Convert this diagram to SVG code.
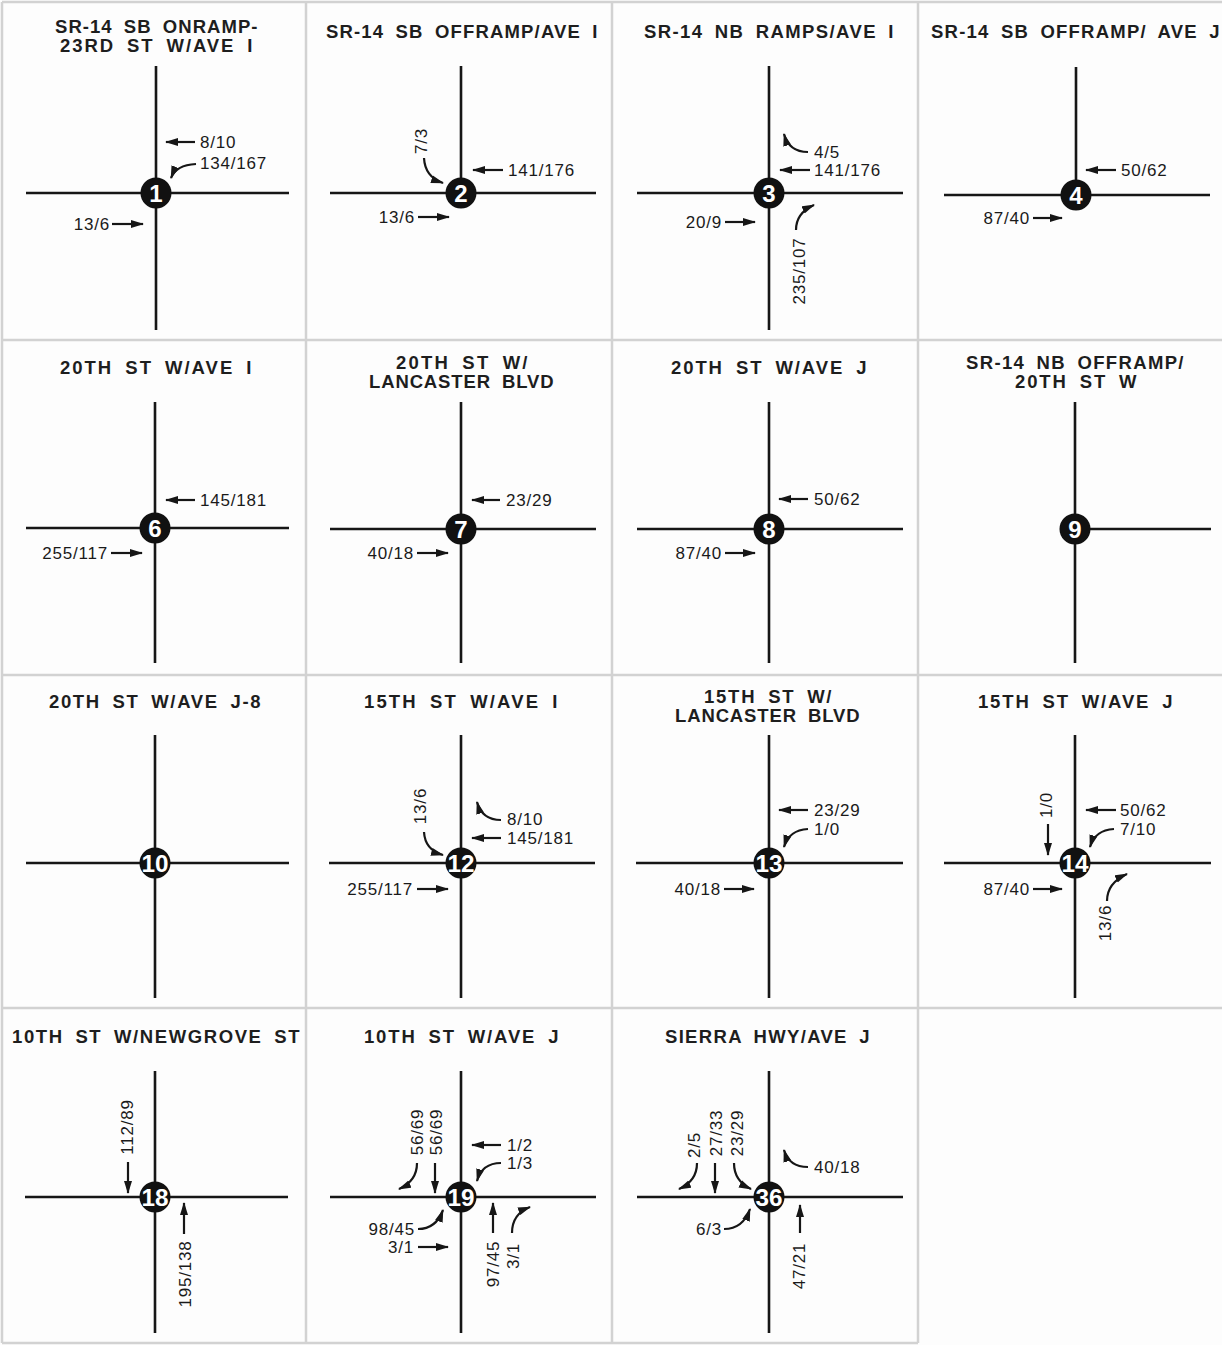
<svg xmlns="http://www.w3.org/2000/svg" width="1222" height="1345" viewBox="0 0 1222 1345">
<style>
.road{stroke:#161616;stroke-width:2.6;fill:none}
.arr{stroke:#161616;stroke-width:2.2;fill:none;marker-end:url(#ah)}
.lbl{font-family:"Liberation Sans",Arial,sans-serif;font-size:17px;letter-spacing:0.8px;fill:#1a1a1a}
.end{text-anchor:end}
.rot{text-anchor:middle}
.ttl{font-family:"Liberation Sans",Arial,sans-serif;font-weight:bold;font-size:18.5px;fill:#1e1e1e;word-spacing:5px;letter-spacing:0.5px}
.dot{fill:#111}
.num{font-family:"Liberation Sans",Arial,sans-serif;font-weight:bold;font-size:24px;fill:#fff;text-anchor:middle}
.grid{stroke:#d2d2d2;stroke-width:2.5;fill:none}
</style>
<defs>
<marker id="ah" markerUnits="userSpaceOnUse" markerWidth="13" markerHeight="9" refX="12" refY="4.5" orient="auto" viewBox="0 0 13 9">
<path d="M0,0.5 L13,4.5 L0,8.5 z" fill="#161616"/>
</marker>
</defs>
<rect x="0" y="0" width="1222" height="1345" fill="#fdfdfd"/>
<g id="grid">
<path class="grid" d="M2,2 H1222 M2,2 V1343 M306,2 V1343 M612,2 V1343 M918,2 V1343 M2,340 H1222 M2,675 H1222 M2,1008 H1222 M2,1343 H918"/>
</g>

<g id="n1">
<text class="ttl" x="55" y="33" textLength="203" lengthAdjust="spacing">SR-14 SB ONRAMP-</text>
<text class="ttl" x="60" y="52" textLength="193" lengthAdjust="spacing">23RD ST W/AVE I</text>
<path class="road" d="M156,66 V330 M26,193 H289"/>
<circle class="dot" cx="156" cy="193" r="15.5"/>
<text class="num" x="156" y="202">1</text>
<text class="lbl" x="200" y="148">8/10</text>
<text class="lbl" x="200" y="169">134/167</text>
<text class="lbl end" x="110" y="230">13/6</text>
</g>

<g id="n2">
<text class="ttl" x="326" y="38" textLength="272" lengthAdjust="spacing">SR-14 SB OFFRAMP/AVE I</text>
<path class="road" d="M461,66 V193 M330,193 H596"/>
<circle class="dot" cx="461" cy="193" r="15.5"/>
<text class="num" x="461" y="202">2</text>
<text class="lbl rot" transform="translate(427,141) rotate(-90)">7/3</text>
<text class="lbl" x="508" y="176">141/176</text>
<text class="lbl end" x="415" y="223">13/6</text>
</g>

<g id="n3">
<text class="ttl" x="644" y="38" textLength="250" lengthAdjust="spacing">SR-14 NB RAMPS/AVE I</text>
<path class="road" d="M769,66 V330 M637,193 H903"/>
<circle class="dot" cx="769" cy="193" r="15.5"/>
<text class="num" x="769" y="202">3</text>
<text class="lbl" x="814" y="158">4/5</text>
<text class="lbl" x="814" y="176">141/176</text>
<text class="lbl end" x="722" y="228">20/9</text>
<text class="lbl rot" transform="translate(805,271) rotate(-90)">235/107</text>
</g>

<g id="n4">
<text class="ttl" x="931" y="38" textLength="289" lengthAdjust="spacing">SR-14 SB OFFRAMP/ AVE J</text>
<path class="road" d="M1076,67 V195 M944,195 H1210"/>
<circle class="dot" cx="1076" cy="195" r="15.5"/>
<text class="num" x="1076" y="204">4</text>
<text class="lbl" x="1121" y="176">50/62</text>
<text class="lbl end" x="1030" y="224">87/40</text>
</g>

<g id="n6">
<text class="ttl" x="60" y="374" textLength="192" lengthAdjust="spacing">20TH ST W/AVE I</text>
<path class="road" d="M155,402 V663 M26,528 H289"/>
<circle class="dot" cx="155" cy="528" r="15.5"/>
<text class="num" x="155" y="537">6</text>
<text class="lbl" x="200" y="506">145/181</text>
<text class="lbl end" x="108" y="559">255/117</text>
</g>

<g id="n7">
<text class="ttl" x="396" y="369" textLength="132" lengthAdjust="spacing">20TH ST W/</text>
<text class="ttl" x="369" y="388" textLength="185" lengthAdjust="spacing">LANCASTER BLVD</text>
<path class="road" d="M461,402 V663 M330,529 H596"/>
<circle class="dot" cx="461" cy="529" r="15.5"/>
<text class="num" x="461" y="538">7</text>
<text class="lbl" x="506" y="506">23/29</text>
<text class="lbl end" x="414" y="559">40/18</text>
</g>

<g id="n8">
<text class="ttl" x="671" y="374" textLength="196" lengthAdjust="spacing">20TH ST W/AVE J</text>
<path class="road" d="M769,402 V663 M637,529 H903"/>
<circle class="dot" cx="769" cy="529" r="15.5"/>
<text class="num" x="769" y="538">8</text>
<text class="lbl" x="814" y="505">50/62</text>
<text class="lbl end" x="722" y="559">87/40</text>
</g>

<g id="n9">
<text class="ttl" x="966" y="369" textLength="218" lengthAdjust="spacing">SR-14 NB OFFRAMP/</text>
<text class="ttl" x="1015" y="388" textLength="122" lengthAdjust="spacing">20TH ST W</text>
<path class="road" d="M1075,402 V663 M1075,529 H1211"/>
<circle class="dot" cx="1075" cy="529" r="15.5"/>
<text class="num" x="1075" y="538">9</text>
</g>

<g id="n10">
<text class="ttl" x="49" y="708" textLength="212" lengthAdjust="spacing">20TH ST W/AVE J-8</text>
<path class="road" d="M155,735 V998 M26,863 H289"/>
<circle class="dot" cx="155" cy="863" r="15.5"/>
<text class="num" x="155" y="872" textLength="27" lengthAdjust="spacingAndGlyphs">10</text>
</g>

<g id="n12">
<text class="ttl" x="364" y="708" textLength="194" lengthAdjust="spacing">15TH ST W/AVE I</text>
<path class="road" d="M461,735 V998 M329,863 H595"/>
<circle class="dot" cx="461" cy="863" r="15.5"/>
<text class="num" x="461" y="872" textLength="27" lengthAdjust="spacingAndGlyphs">12</text>
<text class="lbl rot" transform="translate(426,806) rotate(-90)">13/6</text>
<text class="lbl" x="507" y="825">8/10</text>
<text class="lbl" x="507" y="844">145/181</text>
<text class="lbl end" x="413" y="895">255/117</text>
</g>

<g id="n13">
<text class="ttl" x="704" y="703" textLength="128" lengthAdjust="spacing">15TH ST W/</text>
<text class="ttl" x="675" y="722" textLength="185" lengthAdjust="spacing">LANCASTER BLVD</text>
<path class="road" d="M769,735 V998 M636,863 H903"/>
<circle class="dot" cx="769" cy="863" r="15.5"/>
<text class="num" x="769" y="872" textLength="27" lengthAdjust="spacingAndGlyphs">13</text>
<text class="lbl" x="814" y="816">23/29</text>
<text class="lbl" x="814" y="835">1/0</text>
<text class="lbl end" x="721" y="895">40/18</text>
</g>

<g id="n14">
<text class="ttl" x="978" y="708" textLength="195" lengthAdjust="spacing">15TH ST W/AVE J</text>
<path class="road" d="M1075,735 V998 M944,863 H1211"/>
<circle class="dot" cx="1075" cy="863" r="15.5"/>
<text class="num" x="1075" y="872" textLength="27" lengthAdjust="spacingAndGlyphs">14</text>
<text class="lbl rot" transform="translate(1052,805) rotate(-90)">1/0</text>
<text class="lbl" x="1120" y="816">50/62</text>
<text class="lbl" x="1120" y="835">7/10</text>
<text class="lbl end" x="1030" y="895">87/40</text>
<text class="lbl rot" transform="translate(1111,923) rotate(-90)">13/6</text>
</g>

<g id="n18">
<text class="ttl" x="12" y="1043" textLength="288" lengthAdjust="spacing">10TH ST W/NEWGROVE ST</text>
<path class="road" d="M155,1071 V1333 M25,1197 H288"/>
<circle class="dot" cx="155" cy="1197" r="15.5"/>
<text class="num" x="155" y="1206" textLength="27" lengthAdjust="spacingAndGlyphs">18</text>
<text class="lbl rot" transform="translate(133,1127) rotate(-90)">112/89</text>
<text class="lbl rot" transform="translate(191,1274) rotate(-90)">195/138</text>
</g>

<g id="n19">
<text class="ttl" x="364" y="1043" textLength="195" lengthAdjust="spacing">10TH ST W/AVE J</text>
<path class="road" d="M461,1071 V1333 M330,1197 H596"/>
<circle class="dot" cx="461" cy="1197" r="15.5"/>
<text class="num" x="461" y="1206" textLength="27" lengthAdjust="spacingAndGlyphs">19</text>
<text class="lbl rot" transform="translate(423,1132) rotate(-90)">56/69</text>
<text class="lbl rot" transform="translate(442,1132) rotate(-90)">56/69</text>
<text class="lbl" x="507" y="1151">1/2</text>
<text class="lbl" x="507" y="1169">1/3</text>
<text class="lbl end" x="415" y="1235">98/45</text>
<text class="lbl end" x="414" y="1253">3/1</text>
<text class="lbl rot" transform="translate(499,1264) rotate(-90)">97/45</text>
<text class="lbl rot" transform="translate(519,1256) rotate(-90)">3/1</text>
</g>

<g id="n36">
<text class="ttl" x="665" y="1043" textLength="205" lengthAdjust="spacing">SIERRA HWY/AVE J</text>
<path class="road" d="M769,1071 V1333 M637,1197 H903"/>
<circle class="dot" cx="769" cy="1197" r="15.5"/>
<text class="num" x="769" y="1206" textLength="27" lengthAdjust="spacingAndGlyphs">36</text>
<text class="lbl rot" transform="translate(700,1145) rotate(-90)">2/5</text>
<text class="lbl rot" transform="translate(722,1133) rotate(-90)">27/33</text>
<text class="lbl rot" transform="translate(743,1133) rotate(-90)">23/29</text>
<text class="lbl" x="814" y="1173">40/18</text>
<text class="lbl end" x="722" y="1235">6/3</text>
<text class="lbl rot" transform="translate(805,1266) rotate(-90)">47/21</text>
</g>

<g id="connectors">
<path class="arr" d="M195,142 L166,142"/>
<path class="arr" d="M196,164 Q176,165 171,178"/>
<path class="arr" d="M112,224 L143,224"/>

<path class="arr" d="M424,158 Q425,177 443,183"/>
<path class="arr" d="M503,170 L473,170"/>
<path class="arr" d="M418,217 L449,217"/>

<path class="arr" d="M808,152 Q789,152 784,134"/>
<path class="arr" d="M810,170 L780,170"/>
<path class="arr" d="M725,222 L755,222"/>
<path class="arr" d="M796,230 Q796,213 814,205"/>

<path class="arr" d="M1116,170 L1086,170"/>
<path class="arr" d="M1033,218 L1062,218"/>

<path class="arr" d="M195,500 L166,500"/>
<path class="arr" d="M111,553 L142,553"/>

<path class="arr" d="M500,500 L472,500"/>
<path class="arr" d="M417,553 L448,553"/>

<path class="arr" d="M808,499 L779,499"/>
<path class="arr" d="M725,553 L755,553"/>

<path class="arr" d="M424,832 Q425,850 443,855"/>
<path class="arr" d="M501,820 Q482,820 477,802"/>
<path class="arr" d="M501,838 L472,838"/>
<path class="arr" d="M417,889 L448,889"/>

<path class="arr" d="M808,810 L779,810"/>
<path class="arr" d="M808,829 Q789,830 784,847"/>
<path class="arr" d="M724,889 L754,889"/>

<path class="arr" d="M1048,824 L1048,855"/>
<path class="arr" d="M1116,810 L1086,810"/>
<path class="arr" d="M1114,829 Q1095,830 1090,847"/>
<path class="arr" d="M1033,889 L1062,889"/>
<path class="arr" d="M1107,901 Q1107,883 1127,874"/>

<path class="arr" d="M128,1162 L128,1193"/>
<path class="arr" d="M184,1234 L184,1203"/>

<path class="arr" d="M417,1163 Q417,1181 399,1189"/>
<path class="arr" d="M435,1163 L435,1193"/>
<path class="arr" d="M501,1145 L472,1145"/>
<path class="arr" d="M501,1163 Q482,1163 477,1181"/>
<path class="arr" d="M418,1229 Q436,1229 443,1210"/>
<path class="arr" d="M418,1247 L448,1247"/>
<path class="arr" d="M493,1233 L493,1203"/>
<path class="arr" d="M512,1233 Q512,1214 530,1207"/>

<path class="arr" d="M697,1163 Q697,1181 679,1189"/>
<path class="arr" d="M715,1163 L715,1193"/>
<path class="arr" d="M734,1163 Q734,1181 751,1189"/>
<path class="arr" d="M808,1167 Q789,1167 784,1150"/>
<path class="arr" d="M724,1229 Q743,1229 750,1209"/>
<path class="arr" d="M800,1233 L800,1205"/>
</g>
</svg>
